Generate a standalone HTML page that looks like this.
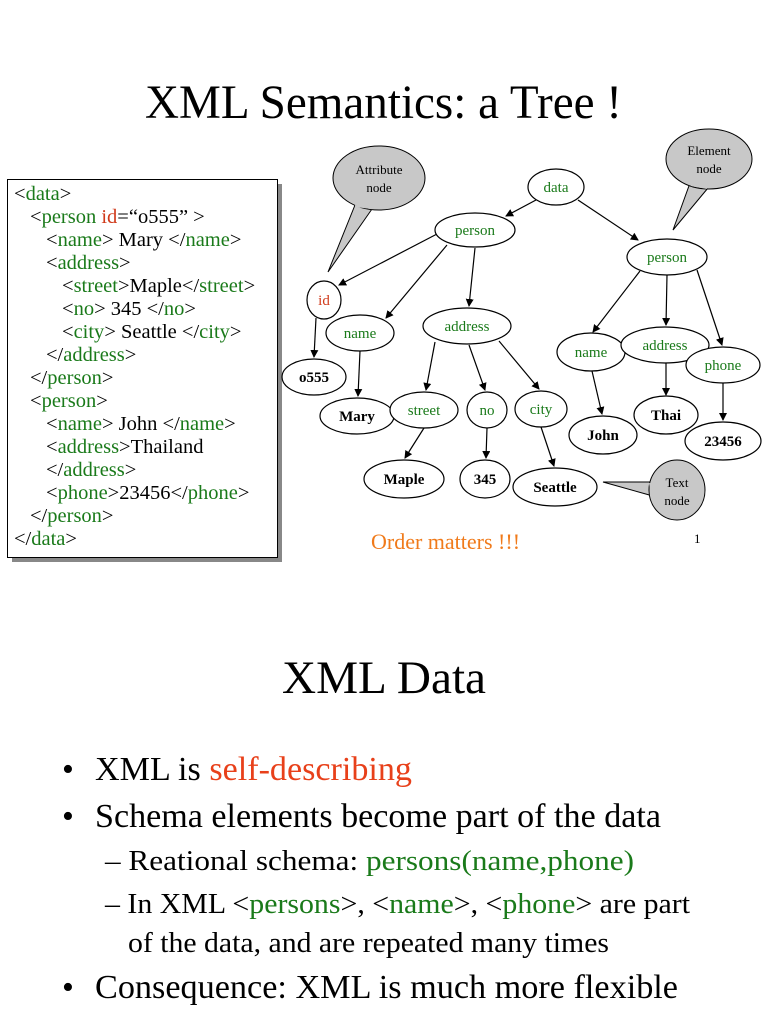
<!DOCTYPE html>
<html><head><meta charset="utf-8"><style>
html,body{margin:0;padding:0;background:#fff;}
svg{display:block;font-family:"Liberation Serif",serif;}
.g{fill:#1a7a1a;}
.r{fill:#d03a1a;}
</style></head><body>
<svg width="768" height="1024" viewBox="0 0 768 1024" xmlns="http://www.w3.org/2000/svg">
<defs><marker id="a" markerWidth="8" markerHeight="8" refX="7" refY="4" orient="auto" markerUnits="userSpaceOnUse"><path d="M0,0 L8,4 L0,8 Z" fill="#000"/></marker></defs>
<text x="145" y="118" font-size="48" textLength="477" lengthAdjust="spacingAndGlyphs">XML Semantics: a Tree !</text>

<!-- code box -->
<rect x="12" y="184" width="270" height="378" fill="#888"/>
<rect x="7.5" y="179.5" width="270" height="378" fill="#fff" stroke="#000"/>
<g font-size="20.5">
<text x="14" y="200">&lt;<tspan class="g">data</tspan>&gt;</text>
<text x="30" y="223">&lt;<tspan class="g">person</tspan> <tspan class="r">id</tspan>=“o555” &gt;</text>
<text x="46" y="246">&lt;<tspan class="g">name</tspan>&gt; Mary &lt;/<tspan class="g">name</tspan>&gt;</text>
<text x="46" y="269">&lt;<tspan class="g">address</tspan>&gt;</text>
<text x="62" y="292">&lt;<tspan class="g">street</tspan>&gt;Maple&lt;/<tspan class="g">street</tspan>&gt;</text>
<text x="62" y="315">&lt;<tspan class="g">no</tspan>&gt; 345 &lt;/<tspan class="g">no</tspan>&gt;</text>
<text x="62" y="338">&lt;<tspan class="g">city</tspan>&gt; Seattle &lt;/<tspan class="g">city</tspan>&gt;</text>
<text x="46" y="361">&lt;/<tspan class="g">address</tspan>&gt;</text>
<text x="30" y="384">&lt;/<tspan class="g">person</tspan>&gt;</text>
<text x="30" y="407">&lt;<tspan class="g">person</tspan>&gt;</text>
<text x="46" y="430">&lt;<tspan class="g">name</tspan>&gt; John &lt;/<tspan class="g">name</tspan>&gt;</text>
<text x="46" y="453">&lt;<tspan class="g">address</tspan>&gt;Thailand</text>
<text x="46" y="476">&lt;/<tspan class="g">address</tspan>&gt;</text>
<text x="46" y="499">&lt;<tspan class="g">phone</tspan>&gt;23456&lt;/<tspan class="g">phone</tspan>&gt;</text>
<text x="30" y="522">&lt;/<tspan class="g">person</tspan>&gt;</text>
<text x="14" y="545">&lt;/<tspan class="g">data</tspan>&gt;</text>
</g>

<!-- callouts -->
<g fill="#c8c8c8" stroke="#000" stroke-width="1">
<path d="M355,205 L328,272 L372,209 Z"/>
<ellipse cx="379" cy="178" rx="46" ry="32"/>
<path d="M690,183 L673,230 L708,188 Z"/>
<ellipse cx="709" cy="159" rx="43" ry="30"/>
<path d="M651,482 L603,482 L653,496 Z"/>
<ellipse cx="677" cy="490" rx="28" ry="30"/>
</g>
<path d="M355,206 L372,208 M691,185 L707,188 M650,483 L652,495" stroke="#c8c8c8" stroke-width="2"/>
<g font-size="13" text-anchor="middle">
<text x="379" y="174">Attribute</text><text x="379" y="192">node</text>
<text x="709" y="155">Element</text><text x="709" y="173">node</text>
<text x="677" y="487">Text</text><text x="677" y="505">node</text>
</g>

<!-- edges -->
<g stroke="#000" stroke-width="1.2" fill="none" marker-end="url(#a)">
<line x1="536" y1="200" x2="506" y2="216"/>
<line x1="578" y1="200" x2="638" y2="240"/>
<line x1="437" y1="234" x2="339" y2="285"/>
<line x1="447" y1="245" x2="386" y2="318"/>
<line x1="475" y1="248" x2="469" y2="306"/>
<line x1="316" y1="318" x2="314" y2="357"/>
<line x1="360" y1="351" x2="358" y2="396"/>
<line x1="435" y1="342" x2="426" y2="390"/>
<line x1="469" y1="345" x2="485" y2="390"/>
<line x1="499" y1="341" x2="539" y2="389"/>
<line x1="424" y1="428" x2="405" y2="458"/>
<line x1="487" y1="428" x2="486" y2="458"/>
<line x1="541" y1="427" x2="554" y2="466"/>
<line x1="640" y1="271" x2="593" y2="332"/>
<line x1="667" y1="275" x2="666" y2="325"/>
<line x1="697" y1="270" x2="722" y2="345"/>
<line x1="592" y1="371" x2="602" y2="414"/>
<line x1="666" y1="363" x2="666" y2="395"/>
<line x1="723" y1="383" x2="723" y2="420"/>
</g>

<!-- nodes -->
<g fill="#fff" stroke="#000" stroke-width="1.2">
<ellipse cx="556" cy="187" rx="28" ry="18"/>
<ellipse cx="475" cy="230" rx="40" ry="17"/>
<ellipse cx="667" cy="257" rx="40" ry="18"/>
<ellipse cx="324" cy="300" rx="17" ry="19"/>
<ellipse cx="360" cy="333" rx="34" ry="18"/>
<ellipse cx="467" cy="326" rx="44" ry="18"/>
<ellipse cx="314" cy="377" rx="32" ry="18"/>
<ellipse cx="357" cy="416" rx="37" ry="18"/>
<ellipse cx="424" cy="410" rx="34" ry="18"/>
<ellipse cx="487" cy="410" rx="20" ry="18"/>
<ellipse cx="541" cy="409" rx="26" ry="18"/>
<ellipse cx="404" cy="479" rx="40" ry="19"/>
<ellipse cx="485" cy="479" rx="25" ry="19"/>
<ellipse cx="555" cy="487" rx="42" ry="19"/>
<ellipse cx="591" cy="352" rx="34" ry="19"/>
<ellipse cx="665" cy="345" rx="44" ry="18"/>
<ellipse cx="723" cy="365" rx="37" ry="18"/>
<ellipse cx="603" cy="435" rx="34" ry="19"/>
<ellipse cx="666" cy="415" rx="32" ry="19"/>
<ellipse cx="723" cy="441" rx="38" ry="19"/>
</g>
<g font-size="15" text-anchor="middle" class="g">
<text x="556" y="192">data</text>
<text x="475" y="235">person</text>
<text x="667" y="262">person</text>
<text x="360" y="338">name</text>
<text x="467" y="331">address</text>
<text x="424" y="415">street</text>
<text x="487" y="415">no</text>
<text x="541" y="414">city</text>
<text x="591" y="357">name</text>
<text x="665" y="350">address</text>
<text x="723" y="370">phone</text>
</g>
<text x="324" y="305" font-size="15" text-anchor="middle" class="r">id</text>
<g font-size="15" font-weight="bold" text-anchor="middle">
<text x="314" y="382">o555</text>
<text x="357" y="421">Mary</text>
<text x="404" y="484">Maple</text>
<text x="485" y="484">345</text>
<text x="555" y="492">Seattle</text>
<text x="603" y="440">John</text>
<text x="666" y="420">Thai</text>
<text x="723" y="446">23456</text>
</g>
<text x="371" y="549" font-size="22" fill="#f07a1a">Order matters !!!</text>
<text x="694" y="543" font-size="13">1</text>

<!-- slide 2 -->
<text x="282" y="693" font-size="47" textLength="204" lengthAdjust="spacingAndGlyphs">XML Data</text>
<g font-size="34">
<text x="62" y="780">•</text>
<text x="95" y="780" textLength="317" lengthAdjust="spacingAndGlyphs">XML is <tspan fill="#e8401a">self-describing</tspan></text>
<text x="62" y="827">•</text>
<text x="95" y="827" textLength="566" lengthAdjust="spacingAndGlyphs">Schema elements become part of the data</text>
<text x="62" y="998">•</text>
<text x="95" y="998" textLength="583" lengthAdjust="spacingAndGlyphs">Consequence: XML is much more flexible</text>
</g>
<g font-size="29">
<text x="105" y="870" textLength="529" lengthAdjust="spacingAndGlyphs">– Reational schema: <tspan class="g">persons(name,phone)</tspan></text>
<text x="105" y="913" textLength="585" lengthAdjust="spacingAndGlyphs">– In XML &lt;<tspan class="g">persons</tspan>&gt;, &lt;<tspan class="g">name</tspan>&gt;, &lt;<tspan class="g">phone</tspan>&gt; are part</text>
<text x="128" y="952" textLength="481" lengthAdjust="spacingAndGlyphs">of the data, and are repeated many times</text>
</g>
</svg>
</body></html>
